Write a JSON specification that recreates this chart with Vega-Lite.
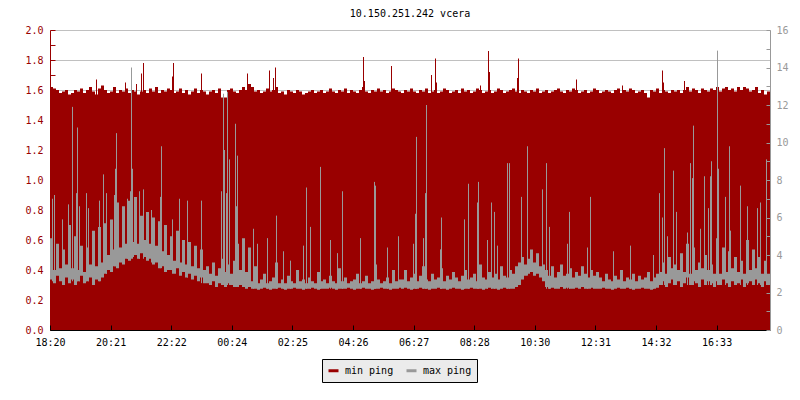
{
"$schema":"https://vega.github.io/schema/vega-lite/v6.json",
"autosize":"none",
"width":720,"height":300,
"padding":{"left":50,"top":30,"right":30,"bottom":70},
"background":"white",
"title":{"text":"10.150.251.242 vcera","font":"DejaVu Sans Mono","fontSize":10,"fontWeight":"normal","color":"black","anchor":"middle","offset":-2,"baseline":"alphabetic"},
"config":{"view":{"stroke":null},"axis":{"labelFont":"DejaVu Sans Mono","labelFontSize":10}},
"datasets":{
"series":[
{"t":"2024-01-01T18:20:30","min":1.62,"lo":2.7,"hi":4.9},
{"t":"2024-01-01T18:26:30","min":1.61,"lo":2.5,"hi":3.2},
{"t":"2024-01-01T18:32:30","min":1.60,"lo":2.9,"hi":4.6},
{"t":"2024-01-01T18:38:30","min":1.58,"lo":2.6,"hi":3.3},
{"t":"2024-01-01T18:44:30","min":1.59,"lo":2.4,"hi":4.3},
{"t":"2024-01-01T18:50:30","min":1.60,"lo":2.8,"hi":3.5},
{"t":"2024-01-01T18:56:30","min":1.57,"lo":2.5,"hi":5.6},
{"t":"2024-01-01T19:02:30","min":1.58,"lo":2.7,"hi":3.3},
{"t":"2024-01-01T19:08:30","min":1.60,"lo":2.4,"hi":5.0},
{"t":"2024-01-01T19:14:30","min":1.59,"lo":2.6,"hi":3.2},
{"t":"2024-01-01T19:20:30","min":1.61,"lo":2.9,"hi":4.5},
{"t":"2024-01-01T19:26:30","min":1.58,"lo":2.5,"hi":3.1},
{"t":"2024-01-01T19:32:30","min":1.60,"lo":2.6,"hi":4.4},
{"t":"2024-01-01T19:38:30","min":1.62,"lo":2.8,"hi":3.5},
{"t":"2024-01-01T19:44:30","min":1.59,"lo":2.4,"hi":5.3},
{"t":"2024-01-01T19:50:30","min":1.57,"lo":2.7,"hi":3.4},
{"t":"2024-01-01T19:56:30","min":1.61,"lo":2.6,"hi":5.5},
{"t":"2024-01-01T20:02:30","min":1.63,"lo":2.8,"hi":3.6},
{"t":"2024-01-01T20:08:30","min":1.60,"lo":3.0,"hi":5.7},
{"t":"2024-01-01T20:14:30","min":1.58,"lo":3.2,"hi":4.0},
{"t":"2024-01-01T20:20:30","min":1.59,"lo":3.1,"hi":5.9},
{"t":"2024-01-01T20:26:30","min":1.62,"lo":3.4,"hi":4.3},
{"t":"2024-01-01T20:32:30","min":1.58,"lo":3.3,"hi":6.8},
{"t":"2024-01-01T20:38:30","min":1.60,"lo":3.6,"hi":4.4},
{"t":"2024-01-01T20:44:30","min":1.59,"lo":3.5,"hi":6.6},
{"t":"2024-01-01T20:50:30","min":1.61,"lo":3.8,"hi":4.6},
{"t":"2024-01-01T20:56:30","min":1.58,"lo":3.7,"hi":6.9},
{"t":"2024-01-01T21:02:30","min":1.60,"lo":3.9,"hi":4.7},
{"t":"2024-01-01T21:08:30","min":1.59,"lo":4.0,"hi":7.1},
{"t":"2024-01-01T21:14:30","min":1.57,"lo":3.8,"hi":4.6},
{"t":"2024-01-01T21:20:30","min":1.59,"lo":4.1,"hi":6.1},
{"t":"2024-01-01T21:26:30","min":1.60,"lo":3.9,"hi":4.8},
{"t":"2024-01-01T21:32:30","min":1.58,"lo":3.7,"hi":6.3},
{"t":"2024-01-01T21:38:30","min":1.61,"lo":3.8,"hi":4.6},
{"t":"2024-01-01T21:44:30","min":1.59,"lo":3.5,"hi":6.0},
{"t":"2024-01-01T21:50:30","min":1.62,"lo":3.6,"hi":4.5},
{"t":"2024-01-01T21:56:30","min":1.58,"lo":3.3,"hi":5.8},
{"t":"2024-01-01T22:02:30","min":1.60,"lo":3.4,"hi":4.2},
{"t":"2024-01-01T22:08:30","min":1.59,"lo":3.1,"hi":5.6},
{"t":"2024-01-01T22:14:30","min":1.61,"lo":3.2,"hi":4.0},
{"t":"2024-01-01T22:20:30","min":1.60,"lo":3.2,"hi":5.0},
{"t":"2024-01-01T22:26:30","min":1.58,"lo":3.0,"hi":3.7},
{"t":"2024-01-01T22:32:30","min":1.59,"lo":3.3,"hi":5.3},
{"t":"2024-01-01T22:38:30","min":1.61,"lo":2.9,"hi":3.6},
{"t":"2024-01-01T22:44:30","min":1.58,"lo":3.1,"hi":4.8},
{"t":"2024-01-01T22:50:30","min":1.60,"lo":2.8,"hi":3.5},
{"t":"2024-01-01T22:56:30","min":1.57,"lo":3.0,"hi":4.7},
{"t":"2024-01-01T23:02:30","min":1.59,"lo":2.7,"hi":3.4},
{"t":"2024-01-01T23:08:30","min":1.61,"lo":2.9,"hi":4.5},
{"t":"2024-01-01T23:14:30","min":1.58,"lo":2.6,"hi":3.3},
{"t":"2024-01-01T23:20:30","min":1.60,"lo":2.8,"hi":4.3},
{"t":"2024-01-01T23:26:30","min":1.59,"lo":2.5,"hi":3.2},
{"t":"2024-01-01T23:32:30","min":1.57,"lo":2.5,"hi":3.4},
{"t":"2024-01-01T23:38:30","min":1.59,"lo":2.4,"hi":3.0},
{"t":"2024-01-01T23:44:30","min":1.60,"lo":2.6,"hi":3.6},
{"t":"2024-01-01T23:50:30","min":1.58,"lo":2.3,"hi":2.9},
{"t":"2024-01-01T23:56:30","min":1.61,"lo":2.5,"hi":3.3},
{"t":"2024-01-02T00:02:30","min":1.55,"lo":2.4,"hi":3.8},
{"t":"2024-01-02T00:08:30","min":1.55,"lo":2.3,"hi":3.1},
{"t":"2024-01-02T00:14:30","min":1.60,"lo":2.5,"hi":3.5},
{"t":"2024-01-02T00:20:30","min":1.61,"lo":2.4,"hi":3.0},
{"t":"2024-01-02T00:26:30","min":1.59,"lo":2.3,"hi":3.7},
{"t":"2024-01-02T00:32:30","min":1.58,"lo":2.3,"hi":4.6},
{"t":"2024-01-02T00:38:30","min":1.60,"lo":2.4,"hi":3.2},
{"t":"2024-01-02T00:44:30","min":1.62,"lo":2.3,"hi":4.9},
{"t":"2024-01-02T00:50:30","min":1.60,"lo":2.2,"hi":3.1},
{"t":"2024-01-02T00:56:30","min":1.64,"lo":2.3,"hi":4.4},
{"t":"2024-01-02T01:02:30","min":1.62,"lo":2.2,"hi":2.6},
{"t":"2024-01-02T01:08:30","min":1.59,"lo":2.2,"hi":3.4},
{"t":"2024-01-02T01:14:30","min":1.60,"lo":2.15,"hi":2.5},
{"t":"2024-01-02T01:20:30","min":1.58,"lo":2.2,"hi":2.7},
{"t":"2024-01-02T01:26:30","min":1.59,"lo":2.25,"hi":3.0},
{"t":"2024-01-02T01:32:30","min":1.61,"lo":2.2,"hi":2.5},
{"t":"2024-01-02T01:38:30","min":1.59,"lo":2.15,"hi":2.6},
{"t":"2024-01-02T01:44:30","min":1.60,"lo":2.2,"hi":2.8},
{"t":"2024-01-02T01:50:30","min":1.62,"lo":2.2,"hi":3.6},
{"t":"2024-01-02T01:56:30","min":1.58,"lo":2.25,"hi":2.5},
{"t":"2024-01-02T02:02:30","min":1.59,"lo":2.2,"hi":2.7},
{"t":"2024-01-02T02:08:30","min":1.57,"lo":2.15,"hi":2.5},
{"t":"2024-01-02T02:14:30","min":1.60,"lo":2.2,"hi":2.9},
{"t":"2024-01-02T02:20:30","min":1.59,"lo":2.2,"hi":2.6},
{"t":"2024-01-02T02:26:30","min":1.58,"lo":2.25,"hi":2.5},
{"t":"2024-01-02T02:32:30","min":1.60,"lo":2.2,"hi":3.2},
{"t":"2024-01-02T02:38:30","min":1.59,"lo":2.2,"hi":2.6},
{"t":"2024-01-02T02:44:30","min":1.57,"lo":2.15,"hi":2.7},
{"t":"2024-01-02T02:50:30","min":1.58,"lo":2.2,"hi":2.5},
{"t":"2024-01-02T02:56:30","min":1.59,"lo":2.2,"hi":2.8},
{"t":"2024-01-02T03:02:30","min":1.60,"lo":2.25,"hi":2.6},
{"t":"2024-01-02T03:08:30","min":1.58,"lo":2.2,"hi":2.5},
{"t":"2024-01-02T03:14:30","min":1.59,"lo":2.15,"hi":3.1},
{"t":"2024-01-02T03:20:30","min":1.60,"lo":2.2,"hi":2.6},
{"t":"2024-01-02T03:26:30","min":1.58,"lo":2.2,"hi":2.7},
{"t":"2024-01-02T03:32:30","min":1.59,"lo":2.2,"hi":2.5},
{"t":"2024-01-02T03:38:30","min":1.61,"lo":2.25,"hi":2.9},
{"t":"2024-01-02T03:44:30","min":1.59,"lo":2.2,"hi":2.6},
{"t":"2024-01-02T03:50:30","min":1.58,"lo":2.15,"hi":2.5},
{"t":"2024-01-02T03:56:30","min":1.60,"lo":2.2,"hi":3.3},
{"t":"2024-01-02T04:02:30","min":1.59,"lo":2.2,"hi":2.6},
{"t":"2024-01-02T04:08:30","min":1.61,"lo":2.2,"hi":2.8},
{"t":"2024-01-02T04:14:30","min":1.58,"lo":2.25,"hi":2.5},
{"t":"2024-01-02T04:20:30","min":1.60,"lo":2.2,"hi":2.6},
{"t":"2024-01-02T04:26:30","min":1.59,"lo":2.15,"hi":2.7},
{"t":"2024-01-02T04:32:30","min":1.58,"lo":2.2,"hi":3.0},
{"t":"2024-01-02T04:38:30","min":1.60,"lo":2.2,"hi":2.5},
{"t":"2024-01-02T04:44:30","min":1.62,"lo":2.25,"hi":2.6},
{"t":"2024-01-02T04:50:30","min":1.59,"lo":2.2,"hi":2.9},
{"t":"2024-01-02T04:56:30","min":1.58,"lo":2.2,"hi":2.5},
{"t":"2024-01-02T05:02:30","min":1.60,"lo":2.15,"hi":2.6},
{"t":"2024-01-02T05:08:30","min":1.59,"lo":2.2,"hi":3.5},
{"t":"2024-01-02T05:14:30","min":1.61,"lo":2.2,"hi":2.7},
{"t":"2024-01-02T05:20:30","min":1.59,"lo":2.25,"hi":2.5},
{"t":"2024-01-02T05:26:30","min":1.60,"lo":2.2,"hi":2.6},
{"t":"2024-01-02T05:32:30","min":1.58,"lo":2.2,"hi":2.8},
{"t":"2024-01-02T05:38:30","min":1.59,"lo":2.15,"hi":2.5},
{"t":"2024-01-02T05:44:30","min":1.61,"lo":2.2,"hi":3.2},
{"t":"2024-01-02T05:50:30","min":1.60,"lo":2.2,"hi":2.6},
{"t":"2024-01-02T05:56:30","min":1.59,"lo":2.25,"hi":2.7},
{"t":"2024-01-02T06:02:30","min":1.58,"lo":2.2,"hi":2.7},
{"t":"2024-01-02T06:08:30","min":1.60,"lo":2.25,"hi":3.2},
{"t":"2024-01-02T06:14:30","min":1.59,"lo":2.2,"hi":2.6},
{"t":"2024-01-02T06:20:30","min":1.61,"lo":2.15,"hi":2.8},
{"t":"2024-01-02T06:26:30","min":1.59,"lo":2.2,"hi":3.0},
{"t":"2024-01-02T06:32:30","min":1.58,"lo":2.2,"hi":2.6},
{"t":"2024-01-02T06:38:30","min":1.60,"lo":2.25,"hi":2.9},
{"t":"2024-01-02T06:44:30","min":1.59,"lo":2.2,"hi":3.4},
{"t":"2024-01-02T06:50:30","min":1.61,"lo":2.2,"hi":2.7},
{"t":"2024-01-02T06:56:30","min":1.58,"lo":2.15,"hi":2.6},
{"t":"2024-01-02T07:02:30","min":1.59,"lo":2.2,"hi":3.0},
{"t":"2024-01-02T07:08:30","min":1.60,"lo":2.2,"hi":2.7},
{"t":"2024-01-02T07:14:30","min":1.58,"lo":2.25,"hi":2.8},
{"t":"2024-01-02T07:20:30","min":1.59,"lo":2.2,"hi":3.3},
{"t":"2024-01-02T07:26:30","min":1.61,"lo":2.2,"hi":2.6},
{"t":"2024-01-02T07:32:30","min":1.60,"lo":2.15,"hi":2.9},
{"t":"2024-01-02T07:38:30","min":1.58,"lo":2.2,"hi":2.7},
{"t":"2024-01-02T07:44:30","min":1.59,"lo":2.25,"hi":3.1},
{"t":"2024-01-02T07:50:30","min":1.60,"lo":2.2,"hi":2.8},
{"t":"2024-01-02T07:56:30","min":1.58,"lo":2.2,"hi":2.6},
{"t":"2024-01-02T08:02:30","min":1.61,"lo":2.15,"hi":2.9},
{"t":"2024-01-02T08:08:30","min":1.59,"lo":2.2,"hi":3.2},
{"t":"2024-01-02T08:14:30","min":1.60,"lo":2.2,"hi":2.7},
{"t":"2024-01-02T08:20:30","min":1.58,"lo":2.25,"hi":2.8},
{"t":"2024-01-02T08:26:30","min":1.59,"lo":2.2,"hi":3.0},
{"t":"2024-01-02T08:32:30","min":1.61,"lo":2.2,"hi":2.6},
{"t":"2024-01-02T08:38:30","min":1.60,"lo":2.2,"hi":3.5},
{"t":"2024-01-02T08:44:30","min":1.58,"lo":2.15,"hi":2.8},
{"t":"2024-01-02T08:50:30","min":1.59,"lo":2.2,"hi":2.7},
{"t":"2024-01-02T08:56:30","min":1.60,"lo":2.25,"hi":3.1},
{"t":"2024-01-02T09:02:30","min":1.58,"lo":2.2,"hi":2.8},
{"t":"2024-01-02T09:08:30","min":1.59,"lo":2.2,"hi":3.0},
{"t":"2024-01-02T09:14:30","min":1.61,"lo":2.15,"hi":2.7},
{"t":"2024-01-02T09:20:30","min":1.60,"lo":2.2,"hi":3.4},
{"t":"2024-01-02T09:26:30","min":1.58,"lo":2.25,"hi":2.9},
{"t":"2024-01-02T09:32:30","min":1.59,"lo":2.2,"hi":2.8},
{"t":"2024-01-02T09:38:30","min":1.60,"lo":2.2,"hi":3.2},
{"t":"2024-01-02T09:44:30","min":1.61,"lo":2.2,"hi":3.0},
{"t":"2024-01-02T09:50:30","min":1.59,"lo":2.3,"hi":3.4},
{"t":"2024-01-02T09:56:30","min":1.58,"lo":2.4,"hi":3.6},
{"t":"2024-01-02T10:02:30","min":1.60,"lo":2.7,"hi":3.9},
{"t":"2024-01-02T10:08:30","min":1.59,"lo":2.9,"hi":3.5},
{"t":"2024-01-02T10:14:30","min":1.58,"lo":3.0,"hi":3.8},
{"t":"2024-01-02T10:20:30","min":1.60,"lo":3.1,"hi":4.3},
{"t":"2024-01-02T10:26:30","min":1.59,"lo":2.9,"hi":3.6},
{"t":"2024-01-02T10:32:30","min":1.61,"lo":3.0,"hi":4.1},
{"t":"2024-01-02T10:38:30","min":1.58,"lo":2.8,"hi":3.4},
{"t":"2024-01-02T10:44:30","min":1.59,"lo":2.6,"hi":3.5},
{"t":"2024-01-02T10:50:30","min":1.60,"lo":2.3,"hi":3.2},
{"t":"2024-01-02T10:56:30","min":1.58,"lo":2.2,"hi":2.9},
{"t":"2024-01-02T11:02:30","min":1.59,"lo":2.25,"hi":3.4},
{"t":"2024-01-02T11:08:30","min":1.60,"lo":2.2,"hi":2.8},
{"t":"2024-01-02T11:14:30","min":1.61,"lo":2.2,"hi":3.1},
{"t":"2024-01-02T11:20:30","min":1.59,"lo":2.3,"hi":3.5},
{"t":"2024-01-02T11:26:30","min":1.58,"lo":2.2,"hi":2.9},
{"t":"2024-01-02T11:32:30","min":1.60,"lo":2.25,"hi":3.0},
{"t":"2024-01-02T11:38:30","min":1.59,"lo":2.2,"hi":3.3},
{"t":"2024-01-02T11:44:30","min":1.61,"lo":2.2,"hi":2.8},
{"t":"2024-01-02T11:50:30","min":1.60,"lo":2.25,"hi":3.1},
{"t":"2024-01-02T11:56:30","min":1.58,"lo":2.2,"hi":2.9},
{"t":"2024-01-02T12:02:30","min":1.59,"lo":2.3,"hi":3.4},
{"t":"2024-01-02T12:08:30","min":1.60,"lo":2.2,"hi":3.0},
{"t":"2024-01-02T12:14:30","min":1.58,"lo":2.2,"hi":2.8},
{"t":"2024-01-02T12:20:30","min":1.59,"lo":2.25,"hi":3.2},
{"t":"2024-01-02T12:26:30","min":1.61,"lo":2.2,"hi":2.9},
{"t":"2024-01-02T12:32:30","min":1.60,"lo":2.2,"hi":3.1},
{"t":"2024-01-02T12:38:30","min":1.58,"lo":2.2,"hi":2.8},
{"t":"2024-01-02T12:44:30","min":1.59,"lo":2.25,"hi":2.6},
{"t":"2024-01-02T12:50:30","min":1.60,"lo":2.2,"hi":3.0},
{"t":"2024-01-02T12:56:30","min":1.59,"lo":2.2,"hi":2.7},
{"t":"2024-01-02T13:02:30","min":1.58,"lo":2.15,"hi":2.6},
{"t":"2024-01-02T13:08:30","min":1.60,"lo":2.2,"hi":2.9},
{"t":"2024-01-02T13:14:30","min":1.61,"lo":2.25,"hi":2.7},
{"t":"2024-01-02T13:20:30","min":1.58,"lo":2.2,"hi":3.2},
{"t":"2024-01-02T13:26:30","min":1.60,"lo":2.2,"hi":2.6},
{"t":"2024-01-02T13:32:30","min":1.59,"lo":2.25,"hi":2.8},
{"t":"2024-01-02T13:38:30","min":1.61,"lo":2.2,"hi":2.7},
{"t":"2024-01-02T13:44:30","min":1.60,"lo":2.15,"hi":3.0},
{"t":"2024-01-02T13:50:30","min":1.58,"lo":2.2,"hi":2.6},
{"t":"2024-01-02T13:56:30","min":1.59,"lo":2.2,"hi":2.9},
{"t":"2024-01-02T14:02:30","min":1.60,"lo":2.25,"hi":2.7},
{"t":"2024-01-02T14:08:30","min":1.58,"lo":2.2,"hi":2.8},
{"t":"2024-01-02T14:14:30","min":1.55,"lo":2.2,"hi":3.1},
{"t":"2024-01-02T14:20:30","min":1.60,"lo":2.15,"hi":2.6},
{"t":"2024-01-02T14:26:30","min":1.59,"lo":2.2,"hi":2.8},
{"t":"2024-01-02T14:32:30","min":1.61,"lo":2.25,"hi":3.0},
{"t":"2024-01-02T14:38:30","min":1.58,"lo":2.4,"hi":3.1},
{"t":"2024-01-02T14:44:30","min":1.60,"lo":2.6,"hi":3.6},
{"t":"2024-01-02T14:50:30","min":1.59,"lo":2.3,"hi":3.0},
{"t":"2024-01-02T14:56:30","min":1.58,"lo":2.5,"hi":3.9},
{"t":"2024-01-02T15:02:30","min":1.60,"lo":2.7,"hi":3.3},
{"t":"2024-01-02T15:08:30","min":1.59,"lo":2.4,"hi":3.5},
{"t":"2024-01-02T15:14:30","min":1.60,"lo":2.6,"hi":3.2},
{"t":"2024-01-02T15:20:30","min":1.58,"lo":2.3,"hi":4.1},
{"t":"2024-01-02T15:26:30","min":1.60,"lo":2.5,"hi":3.1},
{"t":"2024-01-02T15:32:30","min":1.62,"lo":2.8,"hi":4.6},
{"t":"2024-01-02T15:38:30","min":1.59,"lo":2.4,"hi":3.0},
{"t":"2024-01-02T15:44:30","min":1.61,"lo":2.6,"hi":4.4},
{"t":"2024-01-02T15:50:30","min":1.60,"lo":2.5,"hi":3.2},
{"t":"2024-01-02T15:56:30","min":1.58,"lo":2.3,"hi":3.6},
{"t":"2024-01-02T16:02:30","min":1.61,"lo":2.7,"hi":3.3},
{"t":"2024-01-02T16:08:30","min":1.60,"lo":2.4,"hi":4.0},
{"t":"2024-01-02T16:14:30","min":1.59,"lo":2.6,"hi":3.2},
{"t":"2024-01-02T16:20:30","min":1.61,"lo":2.5,"hi":3.5},
{"t":"2024-01-02T16:26:30","min":1.60,"lo":2.3,"hi":3.0},
{"t":"2024-01-02T16:32:30","min":1.62,"lo":2.6,"hi":4.9},
{"t":"2024-01-02T16:38:30","min":1.59,"lo":2.4,"hi":3.0},
{"t":"2024-01-02T16:44:30","min":1.61,"lo":2.7,"hi":4.4},
{"t":"2024-01-02T16:50:30","min":1.62,"lo":2.5,"hi":3.1},
{"t":"2024-01-02T16:56:30","min":1.60,"lo":2.3,"hi":4.2},
{"t":"2024-01-02T17:02:30","min":1.61,"lo":2.6,"hi":3.3},
{"t":"2024-01-02T17:08:30","min":1.59,"lo":2.4,"hi":3.9},
{"t":"2024-01-02T17:14:30","min":1.62,"lo":2.5,"hi":3.1},
{"t":"2024-01-02T17:20:30","min":1.60,"lo":2.7,"hi":3.7},
{"t":"2024-01-02T17:26:30","min":1.62,"lo":2.3,"hi":3.0},
{"t":"2024-01-02T17:32:30","min":1.61,"lo":2.5,"hi":4.8},
{"t":"2024-01-02T17:38:30","min":1.59,"lo":2.6,"hi":3.2},
{"t":"2024-01-02T17:44:30","min":1.60,"lo":2.4,"hi":4.3},
{"t":"2024-01-02T17:50:30","min":1.62,"lo":2.7,"hi":3.3},
{"t":"2024-01-02T17:56:30","min":1.58,"lo":2.5,"hi":3.9},
{"t":"2024-01-02T18:02:30","min":1.60,"lo":2.3,"hi":3.0},
{"t":"2024-01-02T18:08:30","min":1.57,"lo":2.6,"hi":3.7},
{"t":"2024-01-02T18:14:30","min":1.59,"lo":2.4,"hi":3.0},
{"t":"2024-01-02T18:20:30","min":1.59,"lo":2.4,"hi":3.0}
],
"spikes":[
{"t":"2024-01-01T19:53:30","s":"min","top":1.67,"base":1.55},
{"t":"2024-01-01T20:51:30","s":"min","top":1.65,"base":1.55},
{"t":"2024-01-01T21:13:30","s":"min","top":1.64,"base":1.55},
{"t":"2024-01-01T21:23:30","s":"min","top":1.71,"base":1.55},
{"t":"2024-01-01T21:27:30","s":"min","top":1.78,"base":1.55},
{"t":"2024-01-01T22:25:30","s":"min","top":1.69,"base":1.55},
{"t":"2024-01-01T22:27:30","s":"min","top":1.78,"base":1.55},
{"t":"2024-01-01T23:23:30","s":"min","top":1.71,"base":1.55},
{"t":"2024-01-02T00:55:30","s":"min","top":1.71,"base":1.55},
{"t":"2024-01-02T01:39:30","s":"min","top":1.73,"base":1.55},
{"t":"2024-01-02T01:47:30","s":"min","top":1.68,"base":1.55},
{"t":"2024-01-02T01:51:30","s":"min","top":1.75,"base":1.55},
{"t":"2024-01-02T04:47:30","s":"min","top":1.82,"base":1.55},
{"t":"2024-01-02T04:49:30","s":"min","top":1.66,"base":1.55},
{"t":"2024-01-02T05:43:30","s":"min","top":1.76,"base":1.55},
{"t":"2024-01-02T07:03:30","s":"min","top":1.70,"base":1.55},
{"t":"2024-01-02T07:11:30","s":"min","top":1.81,"base":1.55},
{"t":"2024-01-02T07:13:30","s":"min","top":1.65,"base":1.55},
{"t":"2024-01-02T08:41:30","s":"min","top":1.63,"base":1.55},
{"t":"2024-01-02T08:57:30","s":"min","top":1.86,"base":1.55},
{"t":"2024-01-02T08:59:30","s":"min","top":1.72,"base":1.55},
{"t":"2024-01-02T09:55:30","s":"min","top":1.68,"base":1.55},
{"t":"2024-01-02T09:57:30","s":"min","top":1.81,"base":1.55},
{"t":"2024-01-02T11:53:30","s":"min","top":1.67,"base":1.55},
{"t":"2024-01-02T13:25:30","s":"min","top":1.63,"base":1.55},
{"t":"2024-01-02T14:45:30","s":"min","top":1.73,"base":1.55},
{"t":"2024-01-02T14:47:30","s":"min","top":1.65,"base":1.55},
{"t":"2024-01-02T15:29:30","s":"min","top":1.66,"base":1.55},
{"t":"2024-01-01T18:25:30","s":"max","top":7.0,"base":2.6},
{"t":"2024-01-01T18:29:30","s":"max","top":7.2,"base":2.6},
{"t":"2024-01-01T18:45:30","s":"max","top":5.9,"base":2.6},
{"t":"2024-01-01T18:57:30","s":"max","top":6.7,"base":2.6},
{"t":"2024-01-01T19:05:30","s":"max","top":11.9,"base":2.6},
{"t":"2024-01-01T19:13:30","s":"max","top":7.3,"base":2.6},
{"t":"2024-01-01T19:15:30","s":"max","top":10.8,"base":2.6},
{"t":"2024-01-01T19:19:30","s":"max","top":6.6,"base":2.6},
{"t":"2024-01-01T19:33:30","s":"max","top":7.3,"base":2.6},
{"t":"2024-01-01T19:37:30","s":"max","top":6.5,"base":2.6},
{"t":"2024-01-01T19:59:30","s":"max","top":6.9,"base":2.6},
{"t":"2024-01-01T20:07:30","s":"max","top":8.3,"base":3.0},
{"t":"2024-01-01T20:13:30","s":"max","top":7.3,"base":3.0},
{"t":"2024-01-01T20:29:30","s":"max","top":7.2,"base":3.4},
{"t":"2024-01-01T20:31:30","s":"max","top":8.6,"base":3.4},
{"t":"2024-01-01T20:33:30","s":"max","top":10.5,"base":3.4},
{"t":"2024-01-01T20:55:30","s":"max","top":7.0,"base":3.8},
{"t":"2024-01-01T21:01:30","s":"max","top":7.4,"base":3.8},
{"t":"2024-01-01T21:03:30","s":"max","top":14.0,"base":3.8},
{"t":"2024-01-01T21:05:30","s":"max","top":8.6,"base":3.8},
{"t":"2024-01-01T21:19:30","s":"max","top":7.4,"base":3.8},
{"t":"2024-01-01T21:27:30","s":"max","top":7.5,"base":3.8},
{"t":"2024-01-01T21:43:30","s":"max","top":6.4,"base":3.6},
{"t":"2024-01-01T22:01:30","s":"max","top":7.1,"base":3.3},
{"t":"2024-01-01T22:03:30","s":"max","top":9.8,"base":3.3},
{"t":"2024-01-01T22:25:30","s":"max","top":5.9,"base":3.0},
{"t":"2024-01-01T22:39:30","s":"max","top":7.0,"base":3.0},
{"t":"2024-01-01T22:55:30","s":"max","top":6.9,"base":2.8},
{"t":"2024-01-01T23:23:30","s":"max","top":6.9,"base":2.5},
{"t":"2024-01-02T00:03:30","s":"max","top":7.4,"base":2.4},
{"t":"2024-01-02T00:07:30","s":"max","top":12.6,"base":2.4},
{"t":"2024-01-02T00:09:30","s":"max","top":9.6,"base":2.4},
{"t":"2024-01-02T00:13:30","s":"max","top":7.3,"base":2.4},
{"t":"2024-01-02T00:15:30","s":"max","top":12.7,"base":2.4},
{"t":"2024-01-02T00:19:30","s":"max","top":9.1,"base":2.4},
{"t":"2024-01-02T00:31:30","s":"max","top":11.0,"base":2.3},
{"t":"2024-01-02T00:33:30","s":"max","top":6.6,"base":2.3},
{"t":"2024-01-02T00:35:30","s":"max","top":9.3,"base":2.3},
{"t":"2024-01-02T01:07:30","s":"max","top":5.4,"base":2.2},
{"t":"2024-01-02T01:15:30","s":"max","top":4.6,"base":2.2},
{"t":"2024-01-02T01:35:30","s":"max","top":4.9,"base":2.2},
{"t":"2024-01-02T01:53:30","s":"max","top":6.1,"base":2.2},
{"t":"2024-01-02T02:07:30","s":"max","top":4.2,"base":2.2},
{"t":"2024-01-02T02:21:30","s":"max","top":3.7,"base":2.2},
{"t":"2024-01-02T02:47:30","s":"max","top":4.5,"base":2.2},
{"t":"2024-01-02T02:53:30","s":"max","top":7.6,"base":2.2},
{"t":"2024-01-02T03:01:30","s":"max","top":5.5,"base":2.2},
{"t":"2024-01-02T03:21:30","s":"max","top":8.7,"base":2.2},
{"t":"2024-01-02T03:41:30","s":"max","top":4.8,"base":2.2},
{"t":"2024-01-02T03:55:30","s":"max","top":4.1,"base":2.2},
{"t":"2024-01-02T04:05:30","s":"max","top":7.4,"base":2.2},
{"t":"2024-01-02T04:41:30","s":"max","top":4.9,"base":2.2},
{"t":"2024-01-02T05:09:30","s":"max","top":7.9,"base":2.2},
{"t":"2024-01-02T05:11:30","s":"max","top":7.7,"base":2.2},
{"t":"2024-01-02T05:35:30","s":"max","top":4.4,"base":2.2},
{"t":"2024-01-02T05:57:30","s":"max","top":5.0,"base":2.2},
{"t":"2024-01-02T06:27:30","s":"max","top":4.6,"base":2.2},
{"t":"2024-01-02T06:31:30","s":"max","top":6.2,"base":2.2},
{"t":"2024-01-02T06:33:30","s":"max","top":10.3,"base":2.2},
{"t":"2024-01-02T06:47:30","s":"max","top":4.9,"base":2.2},
{"t":"2024-01-02T06:51:30","s":"max","top":7.3,"base":2.2},
{"t":"2024-01-02T06:53:30","s":"max","top":12.0,"base":2.2},
{"t":"2024-01-02T07:21:30","s":"max","top":4.3,"base":2.2},
{"t":"2024-01-02T07:23:30","s":"max","top":6.0,"base":2.2},
{"t":"2024-01-02T08:09:30","s":"max","top":5.9,"base":2.2},
{"t":"2024-01-02T08:17:30","s":"max","top":7.8,"base":2.2},
{"t":"2024-01-02T08:35:30","s":"max","top":6.8,"base":2.2},
{"t":"2024-01-02T08:37:30","s":"max","top":7.9,"base":2.2},
{"t":"2024-01-02T08:55:30","s":"max","top":4.8,"base":2.2},
{"t":"2024-01-02T09:03:30","s":"max","top":6.8,"base":2.2},
{"t":"2024-01-02T09:09:30","s":"max","top":6.3,"base":2.2},
{"t":"2024-01-02T09:15:30","s":"max","top":4.5,"base":2.2},
{"t":"2024-01-02T09:35:30","s":"max","top":8.9,"base":2.2},
{"t":"2024-01-02T09:39:30","s":"max","top":8.9,"base":2.2},
{"t":"2024-01-02T10:03:30","s":"max","top":7.1,"base":2.8},
{"t":"2024-01-02T10:15:30","s":"max","top":9.8,"base":2.9},
{"t":"2024-01-02T10:45:30","s":"max","top":7.5,"base":2.7},
{"t":"2024-01-02T10:53:30","s":"max","top":8.9,"base":2.2},
{"t":"2024-01-02T10:59:30","s":"max","top":5.5,"base":2.2},
{"t":"2024-01-02T11:35:30","s":"max","top":4.6,"base":2.2},
{"t":"2024-01-02T11:39:30","s":"max","top":6.3,"base":2.2},
{"t":"2024-01-02T12:15:30","s":"max","top":4.4,"base":2.2},
{"t":"2024-01-02T12:21:30","s":"max","top":7.1,"base":2.2},
{"t":"2024-01-02T13:07:30","s":"max","top":4.2,"base":2.2},
{"t":"2024-01-02T13:41:30","s":"max","top":4.5,"base":2.2},
{"t":"2024-01-02T14:27:30","s":"max","top":4.0,"base":2.2},
{"t":"2024-01-02T14:39:30","s":"max","top":7.3,"base":2.4},
{"t":"2024-01-02T14:45:30","s":"max","top":6.0,"base":2.4},
{"t":"2024-01-02T14:49:30","s":"max","top":9.7,"base":2.4},
{"t":"2024-01-02T14:55:30","s":"max","top":5.0,"base":2.4},
{"t":"2024-01-02T15:07:30","s":"max","top":8.5,"base":2.4},
{"t":"2024-01-02T15:13:30","s":"max","top":6.3,"base":2.4},
{"t":"2024-01-02T15:35:30","s":"max","top":5.2,"base":2.4},
{"t":"2024-01-02T15:41:30","s":"max","top":8.9,"base":2.4},
{"t":"2024-01-02T15:45:30","s":"max","top":8.1,"base":2.4},
{"t":"2024-01-02T15:47:30","s":"max","top":10.9,"base":2.4},
{"t":"2024-01-02T16:01:30","s":"max","top":5.4,"base":2.4},
{"t":"2024-01-02T16:09:30","s":"max","top":8.2,"base":2.4},
{"t":"2024-01-02T16:17:30","s":"max","top":6.5,"base":2.4},
{"t":"2024-01-02T16:21:30","s":"max","top":8.2,"base":2.4},
{"t":"2024-01-02T16:23:30","s":"max","top":9.0,"base":2.4},
{"t":"2024-01-02T16:35:30","s":"max","top":14.9,"base":2.4},
{"t":"2024-01-02T16:37:30","s":"max","top":8.6,"base":2.4},
{"t":"2024-01-02T16:51:30","s":"max","top":7.1,"base":2.4},
{"t":"2024-01-02T16:59:30","s":"max","top":9.8,"base":2.4},
{"t":"2024-01-02T17:01:30","s":"max","top":5.3,"base":2.4},
{"t":"2024-01-02T17:21:30","s":"max","top":7.7,"base":2.4},
{"t":"2024-01-02T17:35:30","s":"max","top":6.6,"base":2.4},
{"t":"2024-01-02T17:55:30","s":"max","top":6.5,"base":2.4},
{"t":"2024-01-02T18:01:30","s":"max","top":6.8,"base":2.4},
{"t":"2024-01-02T18:13:30","s":"max","top":9.1,"base":2.4}
]
},
"encoding":{
"x":{"field":"t","type":"temporal",
"scale":{"domain":[{"year":2024,"month":1,"date":1,"hours":18,"minutes":20,"seconds":30},{"year":2024,"month":1,"date":2,"hours":18,"minutes":20,"seconds":30}]},
"axis":{"orient":"bottom","title":null,"format":"%H:%M","grid":false,"zindex":1,"tickSize":-5,"labelPadding":12,"domainColor":"black","tickColor":"black","labelColor":"black","labelFlush":false,"labelOverlap":false,
"values":[
{"year":2024,"month":1,"date":1,"hours":18,"minutes":20,"seconds":30},
{"year":2024,"month":1,"date":1,"hours":20,"minutes":21,"seconds":42},
{"year":2024,"month":1,"date":1,"hours":22,"minutes":22,"seconds":54},
{"year":2024,"month":1,"date":2,"hours":0,"minutes":24,"seconds":6},
{"year":2024,"month":1,"date":2,"hours":2,"minutes":25,"seconds":18},
{"year":2024,"month":1,"date":2,"hours":4,"minutes":26,"seconds":30},
{"year":2024,"month":1,"date":2,"hours":6,"minutes":27,"seconds":42},
{"year":2024,"month":1,"date":2,"hours":8,"minutes":28,"seconds":54},
{"year":2024,"month":1,"date":2,"hours":10,"minutes":30,"seconds":6},
{"year":2024,"month":1,"date":2,"hours":12,"minutes":31,"seconds":18},
{"year":2024,"month":1,"date":2,"hours":14,"minutes":32,"seconds":30},
{"year":2024,"month":1,"date":2,"hours":16,"minutes":33,"seconds":42}
]}}
},
"layer":[
 {"data":{"name":"series"},
  "mark":{"type":"area","interpolate":"step-after","color":"#990000","opacity":1},
  "encoding":{"y":{"field":"min","type":"quantitative","scale":{"domain":[0,2],"nice":false},
   "axis":{"orient":"left","title":null,"values":[0,0.1,0.2,0.3,0.4,0.5,0.6,0.7,0.8,0.9,1,1.1,1.2,1.3,1.4,1.5,1.6,1.7,1.8,1.9,2],
    "labelExpr":"round(datum.value*10) % 2 == 0 ? format(datum.value, '.1f') : ''",
    "tickSize":-5,"labelPadding":12,"domainColor":"#990000","tickColor":"#990000","labelColor":"#990000",
    "grid":true,"gridColor":"#c0c0c0","gridOpacity":{"condition":{"test":"round(datum.value*10) % 2 == 0","value":1},"value":0},
    "zindex":0,"labelOverlap":false,"labelFlush":false}}}},
 {"data":{"name":"spikes"},"transform":[{"filter":"datum.s == 'min'"}],
  "mark":{"type":"rule","strokeWidth":1,"strokeCap":"butt","opacity":1},
  "encoding":{"y":{"field":"top","type":"quantitative","scale":{"domain":[0,2],"nice":false},"axis":null},"y2":{"field":"base"},
   "color":{"datum":"min ping","type":"nominal",
    "scale":{"domain":["min ping","max ping"],"range":["#990000","#999999"]},
    "legend":{"orient":"none","legendX":272,"legendY":329,"direction":"horizontal","title":null,
     "fillColor":"#ebebeb","strokeColor":"black","padding":5,"symbolType":"stroke","symbolStrokeWidth":3,"symbolSize":100,
     "labelFont":"DejaVu Sans Mono","labelFontSize":10,"labelColor":"black","columnPadding":6,"labelOffset":5}}}},
 {"data":{"name":"series"},
  "mark":{"type":"area","interpolate":"step-after","color":"#999999","opacity":1},
  "encoding":{"y":{"field":"hi","type":"quantitative","scale":{"domain":[0,16],"nice":false},
   "axis":{"orient":"right","title":null,"values":[0,1,2,3,4,5,6,7,8,9,10,11,12,13,14,15,16],
    "labelExpr":"datum.value % 2 == 0 ? datum.label : ''",
    "tickSize":-4,"labelPadding":10,"domainColor":"#999999","tickColor":"#999999","labelColor":"#999999",
    "grid":false,"zindex":1,"labelOverlap":false,"labelFlush":false}},
   "y2":{"field":"lo"}}},
 {"data":{"name":"spikes"},"transform":[{"filter":"datum.s == 'max'"}],
  "mark":{"type":"rule","strokeWidth":1,"strokeCap":"butt","opacity":1},
  "encoding":{"y":{"field":"top","type":"quantitative","scale":{"domain":[0,16],"nice":false},"axis":null},"y2":{"field":"base"},
   "color":{"datum":"max ping","type":"nominal"}}}
],
"resolve":{"scale":{"y":"independent"}}
}
